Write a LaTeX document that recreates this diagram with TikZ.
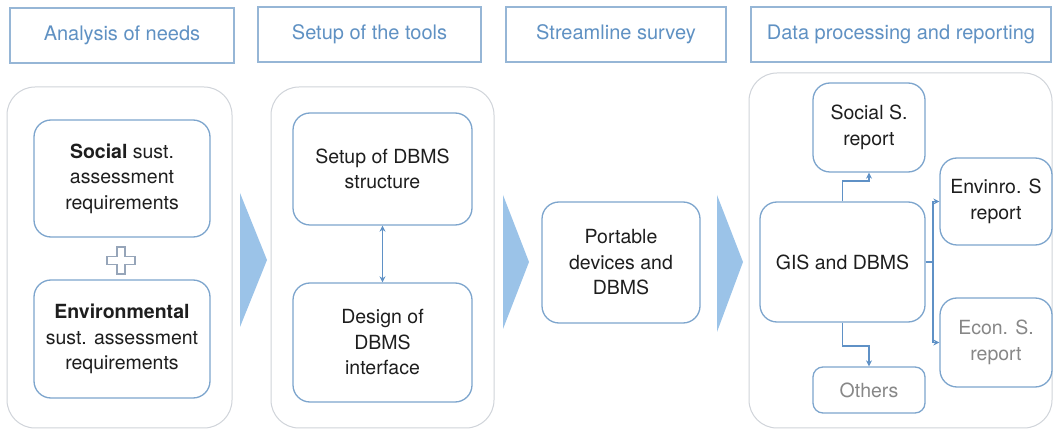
\documentclass[tikz,border=0pt]{standalone}
\usepackage{fontspec}
\setmainfont{TeX Gyre Heros}
\usetikzlibrary{arrows.meta}
\definecolor{hdrline}{RGB}{150,182,214}
\definecolor{hdrtext}{RGB}{95,145,195}
\definecolor{boxline}{RGB}{125,165,205}
\definecolor{contline}{RGB}{208,212,218}
\definecolor{chevfill}{RGB}{155,195,232}
\definecolor{maintext}{RGB}{30,30,30}
\definecolor{greytext}{RGB}{135,135,135}
\definecolor{conn}{RGB}{95,145,198}
\definecolor{plusline}{RGB}{150,165,185}
\tikzset{
  hdrbox/.style={draw=hdrline, line width=1.2pt, rectangle, inner sep=0pt,
    text=hdrtext, font=\fontsize{20}{24}\selectfont},
  container/.style={draw=contline, line width=1pt, rectangle, rounded corners=28pt, inner sep=0pt},
  stepbox/.style={draw=boxline, line width=1.3pt, rectangle, rounded corners=17pt, inner sep=0pt,
    align=center, text=maintext, fill=white, font=\fontsize{19.5}{25.5}\selectfont},
  greybox/.style={stepbox, text=greytext},
  chev/.style={fill=chevfill, draw=none},
  link/.style={draw=conn, line width=1.8pt},
  arr/.style={link, -{Stealth[length=6pt,width=6pt]}},
  darr/.style={link, {Stealth[length=6pt,width=6pt]}-{Stealth[length=6pt,width=6pt]}},
}
\begin{document}
\begin{tikzpicture}[x=1pt,y=-1pt]
\useasboundingbox (0,0) rectangle (1053,430);
\fill[white] (0,0) rectangle (1053,430);

% headers
\node[hdrbox, minimum width=224pt, minimum height=55pt] (h1) at (122,35.5) {Analysis of needs};
\node[hdrbox, minimum width=223pt, minimum height=55pt] (h2) at (369.5,34.5) {Setup of the tools};
\node[hdrbox, minimum width=220pt, minimum height=55pt] (h3) at (616,34.5) {Streamline survey};
\node[hdrbox, minimum width=300pt, minimum height=55pt] (h4) at (901,34.5) {Data processing and reporting};

% containers
\node[container, minimum width=225pt, minimum height=341pt] (c1) at (119.5,257.5) {};
\node[container, minimum width=223pt, minimum height=341pt] (c2) at (382.5,257.5) {};
\node[container, minimum width=303pt, minimum height=355pt] (c4) at (900.5,250.5) {};

% chevrons
\fill[chev] (240,193) -- (267,260) -- (240,327) -- cycle;
\fill[chev] (503,195) -- (529,262) -- (503,329) -- cycle;
\fill[chev] (717,195) -- (743,262) -- (717,332) -- cycle;

% column 1
\node[stepbox, minimum width=176pt, minimum height=117pt] (soc) at (122,178.5)
  {\textbf{Social} sust.\\assessment\\requirements};
\node[stepbox, minimum width=176pt, minimum height=118pt] (envq) at (122,339)
  {\textbf{Environmental}\\sust. assessment\\requirements};
\draw[draw=plusline, line width=1.1pt]
  (117,247) -- (125,247) -- (125,256.5) -- (135,256.5) -- (135,264.5) -- (125,264.5)
  -- (125,274) -- (117,274) -- (117,264.5) -- (107,264.5) -- (107,256.5) -- (117,256.5) -- cycle;

% column 2
\node[stepbox, minimum width=179pt, minimum height=112pt] (setup) at (382.5,169)
  {Setup of DBMS\\structure};
\node[stepbox, minimum width=179pt, minimum height=119pt] (design) at (382.5,342.5)
  {Design of\\DBMS\\interface};
\draw[darr] (setup.south) -- (design.north);

% column 3
\node[stepbox, minimum width=158pt, minimum height=121pt] (port) at (621,262.5)
  {Portable\\devices and\\DBMS};

% column 4
\node[stepbox, minimum width=112pt, minimum height=89pt] (socr) at (869,127.5)
  {Social S.\\report};
\node[stepbox, minimum width=165pt, minimum height=120pt] (gis) at (842.5,262)
  {GIS and DBMS};
\node[stepbox, minimum width=112pt, minimum height=87pt] (envr) at (996,201.5)
  {Envinro. S\\report};
\node[greybox, minimum width=112pt, minimum height=89pt] (econ) at (996,342.5)
  {Econ. S.\\report};
\node[greybox, minimum width=112pt, minimum height=46pt, rounded corners=10pt] (oth) at (869,390)
  {Others};

\coordinate (jr) at (933,262);
\draw[arr] (gis.north) -- ++(0,-20) -| (socr.south);
\draw[arr] (gis.south) -- ++(0,23) -| (oth.north);
\draw[link] (gis.east) -- (jr);
\draw[arr] (jr) |- (envr.west);
\draw[arr] (jr) |- (econ.west);
\end{tikzpicture}
\end{document}
